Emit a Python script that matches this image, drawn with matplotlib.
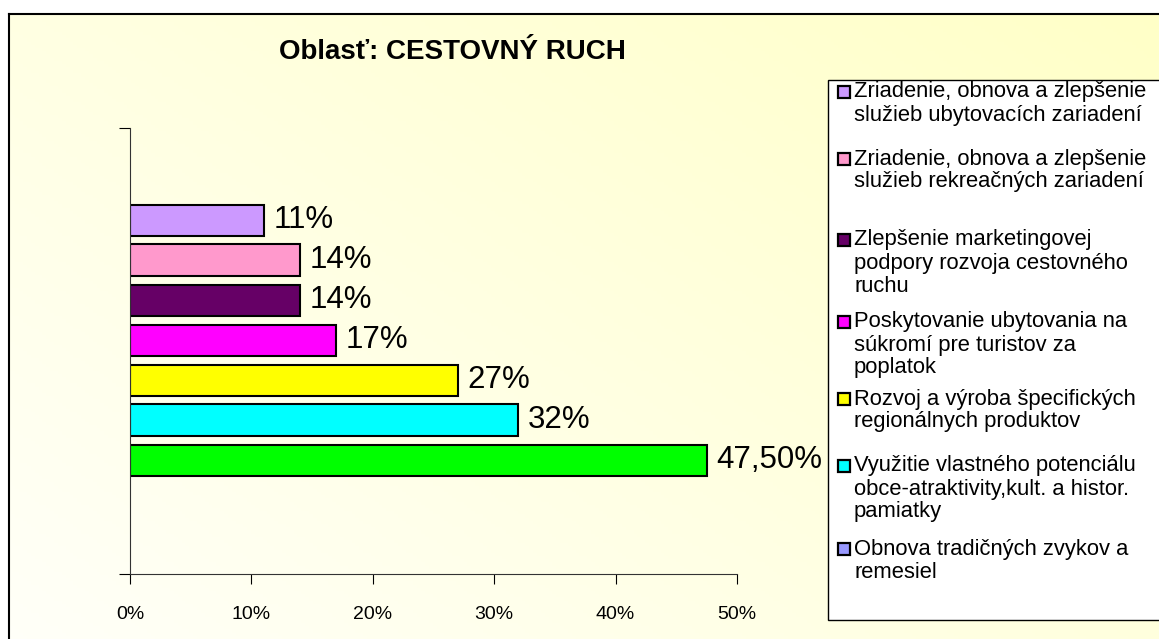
import numpy as np
import matplotlib
matplotlib.use("Agg")
import matplotlib.pyplot as plt
from matplotlib.patches import Rectangle

plt.rcParams['font.family'] = ['Liberation Sans', 'DejaVu Sans']

TITLE = "Oblasť: CESTOVNÝ RUCH"

# top to bottom, as drawn
CATEGORIES = [
    "Zriadenie, obnova a zlepšenie\nslužieb ubytovacích zariadení",
    "Zriadenie, obnova a zlepšenie\nslužieb rekreačných zariadení",
    "Zlepšenie marketingovej\npodpory rozvoja cestovného\nruchu",
    "Poskytovanie ubytovania na\nsúkromí pre turistov za\npoplatok",
    "Rozvoj a výroba špecifických\nregionálnych produktov",
    "Využitie vlastného potenciálu\nobce-atraktivity,kult. a histor.\npamiatky",
    "Obnova tradičných zvykov a\nremesiel",
]
VALUES = [0.11, 0.14, 0.14, 0.17, 0.27, 0.32, 0.475]
VALUE_LABELS = ["11%", "14%", "14%", "17%", "27%", "32%", "47,50%"]
BAR_COLORS = ["#CC99FF", "#FF99CC", "#660066", "#FF00FF", "#FFFF00", "#00FFFF", "#00FF00"]
# the legend swatch of the last item differs from its bar in the original
LEGEND_COLORS = ["#CC99FF", "#FF99CC", "#660066", "#FF00FF", "#FFFF00", "#00FFFF", "#9999FF"]
X_TICKS = [0.0, 0.1, 0.2, 0.3, 0.4, 0.5]
X_TICK_LABELS = ["0%", "10%", "20%", "30%", "40%", "50%"]

W, H = 1159, 639
fig = plt.figure(figsize=(W / 100, H / 100), dpi=100)

# background: pale yellow gradient, frame, legend box (pixel coords)
bg = fig.add_axes([0, 0, 1, 1])
bg.set_xlim(0, W); bg.set_ylim(H, 0); bg.axis("off")
xx, yy = np.meshgrid(np.linspace(0, 1, 300), np.linspace(0, 1, 200))
t = np.clip(0.55 * xx + 0.45 * (1 - yy), 0, 1)[..., None]
c0 = np.array([1.0, 1.0, 0.975]); c1 = np.array([1.0, 1.0, 0.78])
img = c0 * (1 - t) + c1 * t
bg.imshow(img, extent=[0, W, H, 0], aspect="auto", zorder=0)
bg.add_patch(Rectangle((0, 0), W, 14, fc="white", ec="none", zorder=1))
bg.add_patch(Rectangle((0, 0), 9, H, fc="white", ec="none", zorder=1))
bg.plot([9, W], [14, 14], color="black", lw=1.5, zorder=2)
bg.plot([9, 9], [14, H], color="black", lw=1.5, zorder=2)
bg.add_patch(Rectangle((828, 80), 400, 540, fc="white", ec="black", lw=1, zorder=2))

bg.text(452, 52, TITLE, ha="center", va="center", fontsize=20, fontweight="bold", zorder=3)

# legend entries
first_line = [92, 159, 240, 322, 399, 466, 549]
for lbl, col, y0 in zip(CATEGORIES, LEGEND_COLORS, first_line):
    bg.add_patch(Rectangle((838, y0 - 6), 12, 12, fc=col, ec="black", lw=1.6, zorder=3))
    for k, line in enumerate(lbl.split("\n")):
        bg.text(854, y0 + k * 23, line, ha="left", va="center", fontsize=15.8, zorder=3)

# plot area
ax = fig.add_axes([130 / W, 1 - 574 / H, 607 / W, 446 / H])
ax.patch.set_visible(False)
pos = 2.85 + np.arange(len(VALUES))[::-1]
ax.barh(pos, VALUES, height=0.775, color=BAR_COLORS, edgecolor="black", linewidth=1.5)
for p, v, s in zip(pos, VALUES, VALUE_LABELS):
    ax.text(v + 0.008, p, s, ha="left", va="center", fontsize=22.5)

ax.set_xlim(0, 0.5)
ax.set_ylim(0, 11.15)
ax.set_xticks(X_TICKS, X_TICK_LABELS, fontsize=14)
ax.set_yticks([0, 11.15], ["", ""])
ax.tick_params(axis="x", direction="out", length=7, pad=16)
ax.tick_params(axis="y", direction="out", length=8)
for s in ["top", "right"]:
    ax.spines[s].set_visible(False)
for s in ["left", "bottom"]:
    ax.spines[s].set_color("#333333")

fig.savefig("out.png", dpi=100)
